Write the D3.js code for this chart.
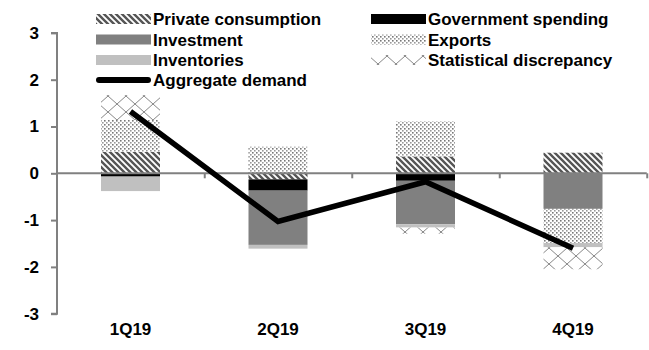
<!DOCTYPE html>
<html><head><meta charset="utf-8">
<script src="https://cdn.jsdelivr.net/npm/d3@7"></script>
<style>
body{margin:0;background:#fff;}
svg{display:block;}
text{font-family:"Liberation Sans",Arial,sans-serif;font-weight:bold;fill:#000;}
</style></head>
<body><svg id="chart" width="649" height="350"></svg>
<script>
const categories = ["1Q19","2Q19","3Q19","4Q19"];
const privateConsumption = [0.46, -0.13, 0.36, 0.44];
const governmentSpending = [-0.07, -0.24, -0.16, 0];
const investment = [0, -1.16, -0.93, -0.76];
const exportsVals = [0.68, 0.57, 0.75, -0.73];
const inventories = [-0.31, -0.08, -0.07, -0.09];
const statisticalDiscrepancy = [0.53, 0, -0.13, -0.47];
const aggregateDemand = [1.32, -1.03, -0.18, -1.60];
const yTicks = [-3,-2,-1,0,1,2,3];

const seriesNames = ["Private consumption","Government spending","Investment","Exports","Inventories","Statistical discrepancy"];
const seriesVals = [privateConsumption, governmentSpending, investment, exportsVals, inventories, statisticalDiscrepancy];
const seriesFill = ["url(#pc)","#000000","#808080","url(#dots)","#c0c0c0","url(#diam)"];

const svg = d3.select("#chart");
const defs = svg.append("defs");
const p1 = defs.append("pattern").attr("id","pc").attr("patternUnits","userSpaceOnUse").attr("width",6).attr("height",6);
p1.append("rect").attr("width",6).attr("height",6).attr("fill","#fff");
p1.append("path").attr("d","M-1,-1L7,7M-1,5L1,7M5,-1L7,1").attr("stroke","#555").attr("stroke-width",2.4);
const p2 = defs.append("pattern").attr("id","dots").attr("patternUnits","userSpaceOnUse").attr("width",4).attr("height",4);
p2.append("rect").attr("width",4).attr("height",4).attr("fill","#fff");
p2.append("rect").attr("x",0).attr("y",0).attr("width",1.6).attr("height",1.6).attr("fill","#777");
p2.append("rect").attr("x",2).attr("y",2).attr("width",1.6).attr("height",1.6).attr("fill","#999");
const p3 = defs.append("pattern").attr("id","diam").attr("patternUnits","userSpaceOnUse").attr("width",18).attr("height",16);
p3.append("rect").attr("width",18).attr("height",16).attr("fill","#fff");
p3.append("path").attr("d","M0,0L18,16M18,0L0,16").attr("stroke","#888").attr("stroke-width",1);

const x = d3.scaleBand().domain(categories).range([56.75, 646.75]).paddingInner(0.6).paddingOuter(0.3);
const y = d3.scaleLinear().domain([-3,3]).range([313.7, 32.9]);

const rows = categories.map((c,i)=>{const o={cat:c}; seriesNames.forEach((s,j)=>o[s]=seriesVals[j][i]); return o;});
const stack = d3.stack().keys(seriesNames).offset(d3.stackOffsetDiverging)(rows);

const gBars = svg.append("g");
stack.forEach((layer,j)=>{
  gBars.selectAll(null).data(layer).join("rect")
    .attr("x",d=>x(d.data.cat))
    .attr("width",x.bandwidth())
    .attr("y",d=>y(Math.max(d[0],d[1])))
    .attr("height",d=>Math.abs(y(d[0])-y(d[1])))
    .attr("fill",seriesFill[j]);
});

const yAxis = d3.axisLeft(y).tickValues(yTicks).tickSize(6).tickPadding(12).tickFormat(d=>String(d));
const gy = svg.append("g").attr("transform","translate(57,0)").call(yAxis);
gy.select(".domain").attr("stroke","#808080").attr("stroke-width",2).attr("d","M-6,"+y(3)+"H0V"+y(-3)+"H-6");
gy.selectAll(".tick line").attr("stroke","#808080").attr("stroke-width",2);
gy.selectAll(".tick text").style("font-size","17px").attr("fill","#000");

const xAxisScale = d3.scaleLinear().domain([0,categories.length]).range(x.range());
const xAxis = d3.axisBottom(xAxisScale).tickValues(d3.range(1,categories.length+1)).tickSize(5).tickFormat("");
const gx = svg.append("g").attr("transform","translate(0,"+y(0)+")").call(xAxis);
gx.select(".domain").attr("stroke","#808080").attr("stroke-width",2).attr("d","M"+x.range()[0]+",0H"+x.range()[1]);
gx.selectAll(".tick line").attr("stroke","#808080").attr("stroke-width",2);

svg.append("g").selectAll("text").data(categories).join("text")
  .attr("x",d=>x(d)+x.bandwidth()/2).attr("y",335)
  .attr("text-anchor","middle").style("font-size","17px").text(d=>d);

const line = d3.line().x((d,i)=>x(categories[i])+x.bandwidth()/2).y(d=>y(d));
svg.append("path").datum(aggregateDemand).attr("d",line)
  .attr("fill","none").attr("stroke","#000").attr("stroke-width",5.5).attr("stroke-linejoin","miter");

const legendItems = [
  {name:"Private consumption",fill:seriesFill[0],col:0,row:0},
  {name:"Government spending",fill:seriesFill[1],col:1,row:0},
  {name:"Investment",fill:seriesFill[2],col:0,row:1},
  {name:"Exports",fill:seriesFill[3],col:1,row:1},
  {name:"Inventories",fill:seriesFill[4],col:0,row:2},
  {name:"Statistical discrepancy",fill:seriesFill[5],col:1,row:2},
  {name:"Aggregate demand",line:true,col:0,row:3}
];
const colX = [96, 371];
const rowY = [19, 39.5, 60, 80];
const lg = svg.append("g");
legendItems.forEach(it=>{
  const gx0 = colX[it.col], cy = rowY[it.row];
  if(it.line){
    lg.append("line").attr("x1",gx0+3).attr("x2",gx0+52).attr("y1",cy).attr("y2",cy)
      .attr("stroke","#000").attr("stroke-width",6).attr("stroke-linecap","round");
  } else {
    lg.append("rect").attr("x",gx0).attr("y",cy-5).attr("width",55).attr("height",10).attr("fill",it.fill);
  }
  lg.append("text").attr("x",gx0+57).attr("y",cy+6).style("font-size","17px").text(it.name);
});
</script>
</body></html>
